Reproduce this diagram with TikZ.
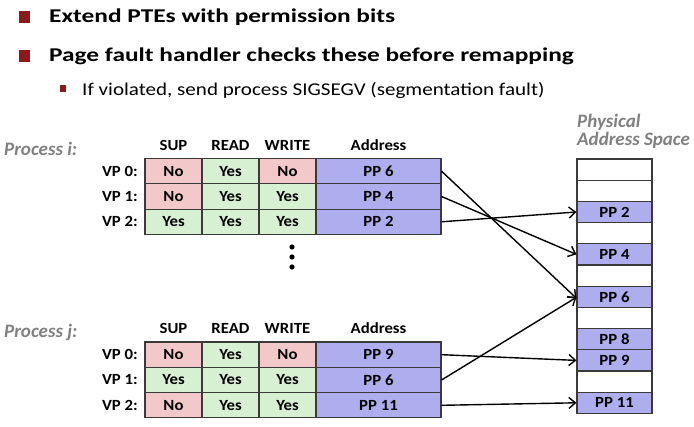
\documentclass[tikz,border=0pt]{standalone}
\usepackage{fontspec}
\setmainfont{Carlito}
\newfontfamily\bulfont{Carlito}[FakeStretch=1.3]
\newfontfamily\subfont{Carlito}[FakeStretch=1.17]
\newfontfamily\tblfont{Carlito}[FakeStretch=1.08]
\usetikzlibrary{arrows.meta}
\definecolor{pinkc}{HTML}{F2C8C8}
\definecolor{greenc}{HTML}{D7F0D2}
\definecolor{purplec}{HTML}{AEAEEE}
\definecolor{bordc}{HTML}{3A3A3A}
\definecolor{maroon}{HTML}{8B1A1A}
\definecolor{graytxt}{HTML}{808080}
\tikzset{
  tfont/.style={font=\tblfont\bfseries\fontsize{15.5}{15.5}\selectfont},
  cell/.style={draw=bordc, line width=1.1pt, minimum height=25.3pt, inner sep=0pt, tfont},
  bitcell/.style={cell, minimum width=57pt},
  addrcell/.style={cell, minimum width=125pt, fill=purplec},
  no/.style={bitcell, fill=pinkc},
  yes/.style={bitcell, fill=greenc},
  phys/.style={draw=bordc, line width=1.1pt, minimum width=75pt, minimum height=21.2pt, inner sep=0pt, fill=white, tfont},
  physpp/.style={phys, fill=purplec},
  hdr/.style={anchor=base, inner sep=0pt, tfont},
  vplab/.style={anchor=east, inner sep=0pt, tfont},
  proc/.style={anchor=base west, font=\bfseries\itshape\fontsize{19}{19}\selectfont, text=graytxt, inner sep=0pt},
  maparrow/.style={line width=1.4pt, -{Straight Barb[length=6.5pt,width=11pt]}},
  bullet/.style={fill=maroon, draw=none},
}
\begin{document}
\begin{tikzpicture}[x=1pt,y=-1pt]
\useasboundingbox (0,0) rectangle (694,427);

% bullets
\fill[bullet] (19,11) rectangle (30,23);
\fill[bullet] (19,50) rectangle (30,62);
\fill[bullet] (60,85) rectangle (66,92);
\node[anchor=base west, inner sep=0pt, font=\bulfont\bfseries\fontsize{19.5}{19.5}\selectfont] (b1) at (49,23) {Extend PTEs with permission bits};
\node[anchor=base west, inner sep=0pt, font=\bulfont\bfseries\fontsize{19.5}{19.5}\selectfont] (b2) at (49,62) {Page fault handler checks these before remapping};
\node[anchor=base west, inner sep=0pt, font=\subfont\fontsize{18}{18}\selectfont] (b3) at (82,96) {If violated, send process SIGSEGV (segmentation fault)};

% Process i
\node[proc] (pi) at (4,156) {Process i:};
\node[hdr] (hi1) at (173.5,151) {SUP};
\node[hdr] (hi2) at (230.5,151) {READ};
\node[hdr] (hi3) at (287.5,151) {WRITE};
\node[hdr] (hi4) at (378.5,151) {Address};
\node[vplab] (vi0) at (138,171.2) {VP 0:};
\node[vplab] (vi1) at (138,196.5) {VP 1:};
\node[vplab] (vi2) at (138,221.8) {VP 2:};
\node[no]  (i0s) at (173.5,171.2) {No};
\node[yes] (i0r) at (230.5,171.2) {Yes};
\node[no]  (i0w) at (287.5,171.2) {No};
\node[addrcell] (i0a) at (378.5,171.2) {PP 6};
\node[no]  (i1s) at (173.5,196.5) {No};
\node[yes] (i1r) at (230.5,196.5) {Yes};
\node[yes] (i1w) at (287.5,196.5) {Yes};
\node[addrcell] (i1a) at (378.5,196.5) {PP 4};
\node[yes] (i2s) at (173.5,221.8) {Yes};
\node[yes] (i2r) at (230.5,221.8) {Yes};
\node[yes] (i2w) at (287.5,221.8) {Yes};
\node[addrcell] (i2a) at (378.5,221.8) {PP 2};

% dots
\fill (292,247) circle (2.6pt);
\fill (292,257) circle (2.6pt);
\fill (292,267) circle (2.6pt);

% Process j
\node[proc] (pj) at (4,338) {Process j:};
\node[hdr] (hj1) at (173.5,334) {SUP};
\node[hdr] (hj2) at (230.5,334) {READ};
\node[hdr] (hj3) at (287.5,334) {WRITE};
\node[hdr] (hj4) at (378.5,334) {Address};
\node[vplab] (vj0) at (138,354.7) {VP 0:};
\node[vplab] (vj1) at (138,380) {VP 1:};
\node[vplab] (vj2) at (138,405.3) {VP 2:};
\node[no]  (j0s) at (173.5,354.7) {No};
\node[yes] (j0r) at (230.5,354.7) {Yes};
\node[no]  (j0w) at (287.5,354.7) {No};
\node[addrcell] (j0a) at (378.5,354.7) {PP 9};
\node[yes] (j1s) at (173.5,380) {Yes};
\node[yes] (j1r) at (230.5,380) {Yes};
\node[yes] (j1w) at (287.5,380) {Yes};
\node[addrcell] (j1a) at (378.5,380) {PP 6};
\node[no]  (j2s) at (173.5,405.3) {No};
\node[yes] (j2r) at (230.5,405.3) {Yes};
\node[yes] (j2w) at (287.5,405.3) {Yes};
\node[addrcell] (j2a) at (378.5,405.3) {PP 11};

% Physical address space
\node[proc] (ph1) at (577,128) {Physical};
\node[proc] (ph2) at (577,146) {Address Space};
\node[phys]   (p0)  at (614.5,169.6) {};
\node[phys]   (p1)  at (614.5,190.8) {};
\node[physpp] (pp2) at (614.5,212.0) {PP 2};
\node[phys]   (p3)  at (614.5,233.2) {};
\node[physpp] (pp4) at (614.5,254.4) {PP 4};
\node[phys]   (p5)  at (614.5,275.6) {};
\node[physpp] (pp6) at (614.5,296.8) {PP 6};
\node[phys]   (p7)  at (614.5,318.0) {};
\node[physpp] (pp8) at (614.5,339.2) {PP 8};
\node[physpp] (pp9) at (614.5,360.4) {PP 9};
\node[phys]   (p10) at (614.5,381.6) {};
\node[physpp] (pp11) at (614.5,402.8) {PP 11};

% mappings
\draw[maparrow] (i0a.east) -- ([yshift=-1.5pt]pp6.west);
\draw[maparrow] (i1a.east) -- (pp4.west);
\draw[maparrow] (i2a.east) -- (pp2.west);
\draw[maparrow] (j0a.east) -- (pp9.west);
\draw[maparrow] (j1a.east) -- ([yshift=-0.5pt]pp6.west);
\draw[maparrow] (j2a.east) -- (pp11.west);
\end{tikzpicture}
\end{document}
